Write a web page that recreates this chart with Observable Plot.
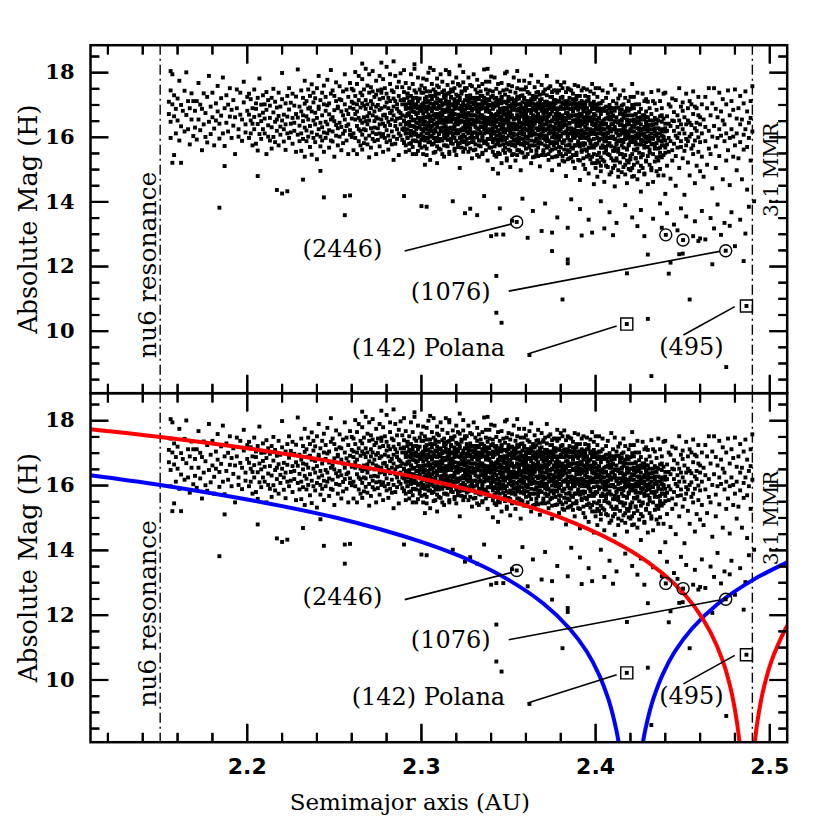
<!DOCTYPE html>
<html><head><meta charset="utf-8">
<script src="https://cdn.jsdelivr.net/npm/d3@7"></script>
<script src="https://cdn.jsdelivr.net/npm/@observablehq/plot@0.6"></script>
<style>
body{margin:0;background:#fff;}
#chart{position:relative;width:830px;height:830px;background:#fff;}
#chart > svg{position:absolute;left:0;overflow:visible;}
</style></head><body><div id="chart"></div>
<script>
// Asteroid family points: "aaa:h,h,..." where a = 2 + aaa/1000 AU and H = h/100 mag
const familyCols = `
155:1672,1710 156:1648,1745,1598 157:1702 158:1665,1730,1545 159:1688,1612 160:1720,1652 161:1590,1775 162:1700,1634,1521 163:1682 164:1744,1618 165:1669,1801 166:1625,1712 167:1690,1578 168:1655,1736 169:1604,1712 170:1682,1630
171:1712,1593 172:1655,1768 173:1622,1701 174:1688,1560 175:1736,1640 176:1601,1675 177:1725,1584 178:1648,1790 179:1610,1695 180:1738,1662 181:1575,1627 182:1705,1652 183:1680,1759 184:1596,1642 185:1721,1667 186:1612,1785 187:1690,1573 188:1645,1730 189:1618,1701 190:1752,1664 191:1598,1685 192:1715,1636 193:1662,1548 194:1690,1748 195:1625,1602 196:1738,1670 197:1589,1655 198:1708,1772 199:1640,1615 200:1682,1725
201:1598,1670,1735 202:1652,1612,1718 203:1690,1575,1642 204:1625,1748,1663 205:1705,1580,1688 206:1641,1722,1559 207:1668,1610,1782 208:1595,1701,1650 209:1730,1625,1676 210:1612,1658,1702 211:1685,1548,1740 212:1637,1715,1602 213:1660,1590,1698 214:1722,1631,1565 215:1601,1677,1750 216:1648,1710,1585 217:1692,1620,1655 218:1575,1738,1666 219:1633,1695,1608 220:1718,1652,1799 221:1587,1670,1625 222:1705,1640,1561 223:1664,1728,1612 224:1598,1686,1752 225:1642,1615,1707 226:1735,1580,1660 227:1620,1698,1645 228:1672,1555,1726 229:1608,1661,1810 230:1695,1636,1588
231:1612,1680,1745,1558 232:1650,1722,1595,1668 233:1704,1630,1540,1775 234:1588,1665,1712,1621 235:1748,1602,1689,1655 236:1635,1570,1728,1692 237:1680,1615,1764,1546 238:1598,1708,1652,1738 239:1721,1640,1585,1676 240:1660,1752,1608,1532 241:1695,1625,1688,1790 242:1572,1645,1715,1602 243:1738,1668,1590,1631 244:1615,1702,1760,1555 245:1682,1598,1648,1725 246:1640,1778,1612,1699 247:1705,1568,1671,1622 248:1590,1735,1655,1808 249:1662,1618,1745,1587 250:1728,1684,1540,1650 251:1605,1712,1638,1770 252:1690,1575,1695,1628 253:1645,1758,1602,1718 254:1715,1632,1680,1560 255:1582,1668,1742,1611 256:1702,1620,1655,1795 257:1635,1748,1590,1684 258:1672,1548,1725,1640 259:1608,1692,1768,1622 260:1750,1658,1601,1710
261:1612,1688,1745,1560,1705 262:1655,1728,1598,1672,1802 263:1702,1635,1765,1548,1680 264:1588,1660,1715,1625,1790 265:1738,1620,1692,1575,1652 266:1645,1780,1608,1705,1730,1562 267:1698,1582,1662,1748,1625 268:1622,1715,1650,1812,1596,1688 269:1760,1640,1578,1702,1665 270:1675,1605,1738,1652,1795,1538 271:1712,1628,1690,1568,1755 272:1595,1668,1742,1615,1805,1702 273:1650,1725,1588,1680,1630 274:1732,1610,1662,1775,1548,1695 275:1628,1700,1745,1592,1658 276:1685,1572,1640,1718,1790,1612 277:1748,1655,1602,1690,1738 278:1610,1722,1668,1555,1780,1642 279:1695,1635,1752,1598,1670 280:1660,1708,1585,1735,1818,1622 281:1722,1648,1690,1562,1605 282:1590,1765,1675,1712,1638,1795 283:1682,1618,1745,1655,1578 284:1740,1695,1602,1668,1720,1530 285:1635,1580,1712,1790,1650 286:1702,1658,1625,1755,1595,1688 287:1612,1728,1680,1545,1772 288:1675,1640,1798,1605,1715,1660 289:1755,1592,1668,1702,1625 290:1628,1715,1650,1582,1740,1808 291:1698,1665,1612,1768,1555 292:1645,1735,1690,1598,1672,1722 293:1710,1580,1752,1638,1690 294:1620,1688,1605,1795,1662,1728 295:1765,1652,1712,1570,1635 296:1590,1700,1678,1745,1615,1812 297:1672,1625,1738,1548,1698 298:1718,1660,1602,1785,1645,1690 299:1635,1748,1682,1575,1720 300:1692,1610,1760,1655,1700,1592
301:1602,1675,1738,1548,1705,1650,1782 302:1662,1720,1590,1695,1628,1752,1515 303:1708,1635,1778,1565,1680,1612,1742 304:1585,1662,1712,1645,1800,1598,1690 305:1742,1620,1688,1530,1665,1728,1605 306:1650,1765,1602,1718,1578,1685,1635 307:1695,1580,1655,1748,1612,1702,1808 308:1618,1728,1672,1555,1740,1640,1690 309:1760,1642,1598,1705,1662,1782,1520 310:1672,1612,1735,1650,1588,1712,1755 311:1715,1668,1562,1690,1628,1795,1645 312:1590,1740,1685,1618,1772,1655,1702 313:1652,1705,1610,1745,1540,1678,1732 314:1728,1632,1680,1598,1715,1660,1808 315:1605,1762,1648,1702,1572,1690,1625 316:1685,1615,1738,1660,1795,1548,1710 317:1748,1678,1595,1630,1722,1668,1588 318:1625,1700,1655,1770,1605,1742,1682 319:1692,1565,1718,1640,1688,1612,1752 320:1658,1732,1612,1695,1545,1785,1642 321:1712,1640,1765,1580,1670,1705,1622 322:1598,1688,1650,1722,1760,1618,1505 323:1742,1622,1698,1665,1592,1735,1680 324:1630,1770,1585,1708,1648,1672,1802 325:1685,1602,1745,1638,1715,1565,1662 326:1752,1660,1618,1690,1578,1728,1640 327:1612,1718,1675,1785,1632,1555,1700 328:1695,1642,1730,1598,1668,1762,1620 329:1640,1758,1605,1682,1720,1655,1535 330:1722,1585,1668,1702,1640,1795,1615 331:1668,1710,1632,1562,1748,1690,1652 332:1600,1738,1695,1655,1610,1722,1778 333:1758,1625,1678,1718,1590,1660,1540 334:1645,1700,1572,1742,1668,1632,1688 335:1712,1658,1765,1605,1695,1548,1728 336:1588,1690,1640,1722,1810,1662,1612 337:1680,1748,1620,1585,1705,1650,1772 338:1735,1615,1692,1660,1528,1718,1642 339:1625,1772,1655,1700,1595,1678,1745 340:1698,1640,1725,1568,1662,1610,1788
341:1612,1688,1742,1555,1650,1705,1502,1628 342:1668,1720,1595,1638,1785,1572,1695,1660 343:1722,1605,1672,1540,1705,1648,1618,1750 344:1585,1655,1698,1765,1622,1580,1680,1488 345:1642,1738,1612,1678,1548,1712,1665,1595 346:1705,1590,1660,1722,1635,1768,1520,1688 347:1628,1682,1745,1602,1655,1578,1710,1640 348:1690,1615,1568,1732,1670,1625,1798,1552 349:1748,1660,1622,1685,1598,1705,1535,1672 350:1605,1712,1678,1640,1762,1562,1652,1725 351:1662,1585,1718,1695,1620,1680,1508,1742 352:1720,1642,1600,1758,1668,1545,1702,1630 353:1578,1695,1655,1712,1612,1785,1640,1590 354:1685,1625,1738,1572,1698,1660,1528,1715 355:1640,1752,1608,1668,1725,1595,1682,1560 356:1702,1588,1662,1632,1775,1650,1612,1720 357:1615,1678,1728,1555,1690,1645,1748,1498 358:1672,1730,1595,1708,1622,1580,1665,1690 359:1748,1650,1612,1680,1538,1718,1628,1775 360:1598,1705,1668,1640,1755,1602,1690,1565
361:1682,1622,1740,1595,1662,1712,1548,1650 362:1630,1768,1685,1618,1702,1575,1735,1608 363:1718,1645,1590,1675,1628,1792,1660,1520 364:1575,1692,1652,1728,1610,1668,1705,1635 365:1665,1612,1755,1588,1700,1645,1540,1722 366:1725,1680,1628,1660,1548,1738,1595,1688 367:1608,1740,1672,1705,1622,1650,1772,1568 368:1690,1598,1645,1732,1662,1510,1712,1625 369:1650,1718,1580,1688,1605,1762,1640,1695 370:1735,1628,1702,1560,1675,1618,1740,1655 371:1592,1665,1625,1748,1698,1545,1682,1605 372:1678,1710,1642,1595,1730,1660,1588,1790 373:1625,1572,1692,1668,1612,1705,1752,1530 374:1705,1648,1758,1620,1582,1688,1635,1672 375:1562,1725,1600,1680,1652,1740,1498,1615 376:1688,1632,1715,1575,1695,1608,1662,1745 377:1745,1598,1658,1705,1540,1672,1625,1585 378:1612,1690,1738,1628,1668,1582,1772,1650 379:1672,1555,1620,1745,1598,1710,1640,1515 380:1722,1645,1688,1602,1762,1568,1660,1695
381:1585,1708,1632,1668,1542,1725,1612,1752 382:1660,1615,1770,1590,1688,1640,1525,1702 383:1700,1740,1575,1652,1618,1695,1658,1480 384:1628,1675,1712,1598,1752,1560,1690,1605 385:1748,1592,1645,1722,1660,1535,1708,1578 386:1612,1688,1568,1705,1628,1745,1590,1665 387:1682,1735,1620,1545,1690,1652,1602,1718 388:1575,1650,1702,1668,1762,1598,1505,1625 389:1718,1605,1640,1692,1575,1728,1655,1552 390:1645,1758,1685,1612,1700,1530,1670,1588 391:1600,1672,1728,1580,1648,1705,1620,1468 392:1692,1622,1560,1745,1665,1598,1712,1640 393:1650,1708,1688,1602,1535,1680,1752,1575 394:1728,1580,1632,1700,1655,1612,1502,1690 395:1598,1665,1748,1628,1690,1558,1642,1712 396:1675,1715,1592,1660,1545,1725,1610,1488 397:1625,1568,1680,1742,1610,1652,1700,1582 398:1702,1640,1612,1688,1765,1540,1658,1520 399:1568,1695,1735,1622,1595,1672,1710,1455 400:1655,1610,1700,1580,1642,1752,1520,1688
401:1612,1682,1545,1725,1598,1478 402:1660,1590,1705,1635,1522,1752 403:1705,1628,1568,1672,1495,1618 404:1575,1712,1650,1608,1745,1530 405:1640,1552,1690,1625,1588,1462 406:1722,1605,1658,1512,1682,1570 407:1598,1675,1630,1738,1548,1612 408:1665,1582,1700,1620,1485,1655 409:1690,1640,1535,1598,1762,1602 410:1558,1712,1668,1625,1505,1690 411:1632,1595,1748,1568,1650,1448 412:1705,1662,1582,1692,1528,1615 413:1590,1622,1720,1645,1555,1478 414:1672,1548,1608,1685,1730,1590 415:1618,1698,1652,1575,1492,1640 416:1745,1585,1632,1702,1538,1660 417:1602,1668,1515,1622,1595,1722 418:1655,1612,1690,1565,1458,1640 419:1712,1578,1642,1608,1682,1522 420:1585,1652,1725,1542,1620,1498 421:1635,1700,1595,1668,1505,1765 422:1690,1562,1618,1648,1725,1480 423:1560,1672,1605,1702,1585,1535 424:1645,1598,1738,1628,1470,1660 425:1702,1625,1552,1678,1598,1612 426:1578,1688,1640,1512,1655,1432 427:1625,1735,1590,1668,1545,1608 428:1668,1602,1655,1488,1712,1575 429:1598,1642,1718,1625,1528,1680 430:1710,1570,1635,1598,1662,1455
431:1625,1552,1690,1588 432:1672,1598,1505,1740 433:1580,1640,1712,1462 434:1705,1565,1628,1605 435:1612,1685,1538,1655 436:1652,1598,1745,1482 437:1568,1712,1625,1540 438:1690,1618,1575,1668 439:1602,1545,1658,1735 440:1738,1628,1590,1425 441:1578,1665,1512,1620 442:1642,1702,1555,1598 443:1695,1588,1635,1472 444:1560,1652,1720,1528 445:1620,1580,1678,1650 446:1715,1542,1605,1450 447:1598,1668,1632,1568 448:1652,1612,1752,1505 449:1570,1695,1588,1640 450:1682,1625,1535,1708 451:1612,1558,1662,1422 452:1735,1640,1595,1575 453:1588,1690,1522,1652 454:1645,1602,1712,1482 455:1702,1565,1638,1610 456:1575,1672,1548,1742 457:1628,1590,1695,1458 458:1690,1645,1512,1620 459:1555,1725,1600,1668 460:1662,1585,1640,1495
461:1612,1702,1540 462:1655,1478 463:1588,1725,1632 464:1690,1515 465:1620,1752,1565 466:1548,1668 467:1705,1602,1442 468:1635,1752 469:1572,1688,1505 470:1662,1598 471:1738,1542,1625 472:1605,1680 473:1652,1470,1718 474:1588,1640 475:1702,1612,1528 476:1560,1745 477:1668,1598,1452 478:1625,1712 479:1540,1685,1602 480:1748,1575 481:1612,1658,1498 482:1690,1535 483:1585,1728,1640 484:1655,1470 485:1608,1705,1562 486:1742,1625 487:1570,1680,1438 488:1645,1598 489:1712,1528,1660 490:1618,1758
`;
// Extra points of the densest core (2.29-2.44 AU)
const coreCols = `
290:1585,1652,1718,1622 291:1640,1702,1575,1688,1612 292:1668,1598,1735,1625 293:1612,1675,1648,1560,1705 294:1700,1635,1582,1662 295:1590,1722,1615,1680,1548 296:1655,1608,1692,1632 297:1722,1588,1645,1702,1610 298:1630,1675,1558,1712 299:1605,1660,1695,1585,1648 300:1682,1625,1738,1568
301:1640,1595,1702,1662,1618 302:1715,1648,1572,1688 303:1598,1662,1625,1725,1545 304:1670,1612,1695,1640 305:1632,1705,1585,1655,1690 306:1578,1680,1622,1728 307:1702,1640,1598,1668,1552 308:1625,1708,1662,1588 309:1688,1572,1632,1720,1645 310:1610,1698,1565,1652 311:1675,1622,1712,1595,1660 312:1548,1668,1630,1700 313:1722,1600,1685,1642,1575 314:1645,1575,1705,1620 315:1592,1735,1658,1612,1680 316:1668,1628,1555,1695 317:1615,1700,1648,1582,1725 318:1702,1580,1662,1628 319:1632,1672,1598,1710,1558 320:1588,1705,1650,1620
321:1658,1612,1728,1570,1690 322:1715,1645,1582,1668 323:1568,1690,1625,1652,1602 324:1678,1608,1700,1555 325:1622,1752,1588,1648,1698 326:1595,1672,1630,1715 327:1648,1582,1708,1655,1615 328:1722,1628,1565,1690 329:1585,1668,1708,1612,1642 330:1652,1598,1688,1560 331:1700,1645,1578,1722,1615 332:1628,1680,1545,1665 333:1575,1702,1648,1612,1688 334:1690,1615,1728,1590 335:1632,1552,1668,1702,1598 336:1708,1648,1582,1625 337:1560,1688,1632,1655,1712 338:1645,1595,1702,1578 339:1682,1622,1568,1715,1650 340:1605,1672,1640,1595
341:1728,1585,1662,1618,1690 342:1612,1700,1545,1650 343:1668,1632,1592,1715,1578 344:1705,1620,1668,1552 345:1575,1688,1638,1602,1715 346:1652,1598,1725,1625 347:1690,1560,1615,1672,1640 348:1620,1710,1592,1652 349:1582,1645,1690,1528,1668 350:1698,1630,1578,1715 351:1642,1558,1672,1612,1695 352:1575,1685,1625,1662 353:1710,1642,1548,1688,1605 354:1632,1592,1705,1658 355:1668,1718,1582,1625,1545 356:1598,1652,1688,1560 357:1702,1618,1578,1665,1632 358:1552,1692,1640,1608 359:1660,1585,1722,1625,1575 360:1625,1678,1540,1695
361:1712,1598,1655,1582,1640 362:1568,1648,1700,1618 363:1635,1682,1558,1605,1712 364:1692,1538,1622,1660 365:1608,1718,1575,1642,1685 366:1652,1592,1702,1560 367:1580,1668,1625,1542,1695 368:1715,1632,1585,1658 369:1545,1682,1612,1702,1628 370:1662,1598,1552,1690 371:1622,1710,1640,1575,1658 372:1568,1652,1685,1602 373:1698,1548,1632,1665,1590 374:1615,1672,1725,1558 375:1650,1585,1622,1700,1538 376:1580,1708,1655,1618 377:1688,1628,1565,1642,1715 378:1542,1662,1605,1680 379:1712,1592,1658,1630,1570 380:1625,1548,1690,1605
381:1655,1702,1582,1635,1528 382:1590,1648,1712,1562 383:1675,1612,1548,1690,1638 384:1532,1665,1625,1702 385:1688,1575,1642,1612,1555 386:1622,1702,1538,1668 387:1565,1648,1680,1598,1525 388:1712,1612,1575,1652 389:1635,1690,1545,1620,1668 390:1582,1662,1612,1705 391:1652,1528,1695,1635,1572 392:1608,1672,1555,1640 393:1698,1618,1582,1662,1515 394:1562,1645,1705,1598 395:1625,1540,1675,1612,1688 396:1680,1602,1568,1652 397:1532,1662,1618,1705,1590 398:1648,1575,1688,1612 399:1612,1695,1548,1638,1662 400:1575,1632,1668,1505
401:1648,1580,1702,1528,1625 402:1690,1612,1552,1658 403:1538,1645,1680,1595,1512 404:1625,1688,1568,1640 405:1682,1598,1525,1655,1612 406:1560,1642,1695,1588 407:1632,1508,1662,1575,1615 408:1598,1688,1545,1632 409:1655,1572,1618,1492,1678 410:1528,1642,1602,1665 411:1682,1558,1625,1595,1512 412:1615,1648,1535,1578 413:1565,1692,1605,1650,1498 414:1638,1522,1672,1588 415:1592,1655,1548,1622,1685 416:1672,1508,1612,1568 417:1545,1635,1680,1595,1485 418:1618,1562,1652,1528 419:1668,1598,1502,1640,1575 420:1532,1625,1688,1588
421:1602,1548,1652,1618,1478 422:1655,1585,1515,1632 423:1578,1642,1598,1670,1535 424:1522,1612,1565,1648 425:1645,1495,1602,1578,1628 426:1592,1662,1538,1615 427:1548,1625,1588,1658,1505 428:1632,1568,1612,1485 429:1585,1648,1525,1602,1662 430:1618,1542,1595,1638 431:1562,1605,1652,1515 432:1638,1578,1498,1612 433:1595,1652,1548,1625 434:1525,1618,1572,1660 435:1582,1495,1642,1605 436:1628,1565,1528,1590 437:1552,1612,1665,1502 438:1605,1538,1588,1648 439:1575,1625,1482,1598 440:1618,1552,1642,1568
`;
const outlierCols = `
157:1521,1795 156:1805 184:1382 187:1511 206:1480 217:1437 220:1426 223:1433 232:1469 244:1414 242:1496 256:1359,1418 259:1420 266:1828 277:1831 284:1835 296:1826 305:1815 316:1802 322:1822 338:1812 349:1803 355:1805
290:1418 300:1387 303:1385 318:1402 325:1365 328:1379 332:1359 336:1418 340:1294 343:1171,1057,1299 345:1380 346:1026 347:1299 352:1342 358:1410 361:1289 362:926 364:1372 369:1310 371:1395 375:1248,1305 378:1352 381:1098 384:1222,1210,1320 386:1408 391:1378 392:1296 396:1345 398:1305
403:1402 405:1318 408:1368 410:1297 412:1335 417:1390 418:1179 421:1352 424:1325 426:1375 428:1294 430:1038,1237 432:861 433:1348 437:1395 438:1320 441:1365 442:1178 443:1212 445:1330 447:1312 448:1238 449:1380 450:1240 452:1355 454:1098 456:1294 457:1340 459:1279 460:1287
461:1372 463:1284 466:1350 467:1207 468:1318 470:1392 472:1298 474:1335 475:889 477:1326 478:1368 480:1263 483:1345 485:1217 486:1302 488:1385 491:1402
`;

// Model curves (a in AU, H in mag)
const blueLeftA  = [2.11, 2.15, 2.20, 2.25, 2.30, 2.33, 2.35, 2.37, 2.385, 2.395, 2.402, 2.407, 2.410, 2.412, 2.4132, 2.4135];
const blueLeftH  = [16.32, 16.02, 15.57, 15.02, 14.26, 13.64, 13.09, 12.36, 11.59, 10.87, 10.16, 9.46, 8.90, 8.43, 8.09, 7.99];
const blueRightA = [2.4269, 2.4272, 2.4284, 2.4304, 2.4334, 2.4384, 2.4454, 2.4554, 2.4704, 2.4904, 2.51];
const blueRightH = [7.99, 8.09, 8.43, 8.90, 9.46, 10.16, 10.87, 11.59, 12.36, 13.09, 13.63];
const redLeftA   = [2.11, 2.15, 2.20, 2.25, 2.30, 2.35, 2.38, 2.41, 2.43, 2.445, 2.457, 2.466, 2.473, 2.478, 2.481, 2.4826, 2.4829];
const redLeftH   = [17.74, 17.50, 17.15, 16.73, 16.22, 15.54, 15.01, 14.29, 13.64, 12.98, 12.25, 11.47, 10.59, 9.63, 8.75, 8.08, 7.92];
const redRightA  = [2.4911, 2.4914, 2.493, 2.496, 2.501, 2.508, 2.51];
const redRightH  = [7.92, 8.08, 8.75, 9.63, 10.59, 11.47, 11.67];

// Annotations
const labelText = ["(2446)", "(1076)", "(142) Polana", "(495)"];
const labelA    = [2.2547, 2.3168, 2.3040, 2.4550];
const labelH    = [12.54, 11.21, 9.48, 9.50];
const leadA1 = [2.2904, 2.3501, 2.3610, 2.4504];
const leadH1 = [12.48, 11.24, 9.29, 9.88];
const leadA2 = [2.3520, 2.4712, 2.4121, 2.4799];
const leadH2 = [13.32, 12.47, 10.16, 10.76];
const circleA = [2.3547, 2.4403, 2.4502, 2.4747];
const circleH = [13.38, 12.98, 12.82, 12.49];
const squareA = [2.4179, 2.4866];
const squareH = [10.22, 10.78];
const resonanceA = [2.15, 2.49];
const resonanceText = ["nu6 resonance", "3:1 MMR"];
const resonanceTextH = [12.05, 15.0];

// Axes
const xDomain = [2.11, 2.51];
const yDomain = [8.08, 18.85];
const xMajor = [2.2, 2.3, 2.4, 2.5];
const xMinor = [2.12,2.14,2.16,2.18,2.22,2.24,2.26,2.28,2.32,2.34,2.36,2.38,2.42,2.44,2.46,2.48];
const yMajor = [10, 12, 14, 16, 18];
const yMinor = [8.5,9,9.5,10.5,11,11.5,12.5,13,13.5,14.5,15,15.5,16.5,17,17.5,18.5];
const xTitle = "Semimajor axis (AU)";
const yTitle = "Absolute Mag (H)";

function parseCols(s){
  const out = [];
  for (const tok of s.trim().split(/\s+/)) {
    const [a, hs] = tok.split(":");
    for (const h of hs.split(",")) out.push({a: 2 + (+a)/1000, H: (+h)/100});
  }
  return out;
}
const zip = (A, H) => A.map((a, i) => ({a, H: H[i]}));
const points = parseCols(familyCols).concat(parseCols(coreCols), parseCols(outlierCols));
const marked = zip(circleA, circleH).concat(zip(squareA, squareH));
const curves = [
  {data: zip(blueLeftA, blueLeftH), color: "#0000ff"},
  {data: zip(blueRightA, blueRightH), color: "#0000ff"},
  {data: zip(redLeftA, redLeftH), color: "#ff0000"},
  {data: zip(redRightA, redRightH), color: "#ff0000"}
];
const labels = labelText.map((t, i) => ({t, a: labelA[i], H: labelH[i]}));
const leaders = leadA1.map((a, i) => ({a1: a, H1: leadH1[i], a2: leadA2[i], H2: leadH2[i]}));

const W = 830, ML = 90, MR = 43.3;
const SERIF = "DejaVu Serif", SANS = "DejaVu Sans";

function makePanel(cfg) {
  const ph = cfg.height - cfg.marginTop - cfg.marginBottom, pw = W - ML - MR;
  const ux = (xDomain[1] - xDomain[0]) / pw, uy = (yDomain[1] - yDomain[0]) / ph;
  const X0 = xDomain[0], X1 = xDomain[1], Y0 = yDomain[0], Y1 = yDomain[1];
  // inward tick segments, starting 1 px inside the frame line
  const tickSegs = [];
  for (const [vals, len] of [[xMajor, 18], [xMinor, 9]]) for (const v of vals) {
    tickSegs.push({a1: v, a2: v, h1: Y0 + 1 * uy, h2: Y0 + len * uy});
    tickSegs.push({a1: v, a2: v, h1: Y1 - 1 * uy, h2: Y1 - len * uy});
  }
  for (const [vals, len] of [[yMajor, 18], [yMinor, 9]]) for (const v of vals) {
    tickSegs.push({a1: X0 + 1 * ux, a2: X0 + len * ux, h1: v, h2: v});
    tickSegs.push({a1: X1 - 1 * ux, a2: X1 - len * ux, h1: v, h2: v});
  }
  const marks = [];
  marks.push(Plot.dot(points, {x: "a", y: "H", symbol: "square", r: 2.2, fill: "black", stroke: "none"}));
  marks.push(Plot.ruleX(resonanceA, {x: d => d, stroke: "black", strokeWidth: 1.4, strokeDasharray: "10,4,2,4"}));
  if (cfg.showCurves) for (const c of curves)
    marks.push(Plot.line(c.data, {x: "a", y: "H", stroke: c.color, strokeWidth: 4, curve: "catmull-rom", clip: true}));
  marks.push(Plot.link(leaders, {x1: "a1", y1: "H1", x2: "a2", y2: "H2", stroke: "black", strokeWidth: 1.6}));
  marks.push(Plot.link(tickSegs, {x1: "a1", y1: "h1", x2: "a2", y2: "h2", stroke: "#000000", strokeWidth: 2.2}));
  marks.push(Plot.dot(marked, {x: "a", y: "H", symbol: "square", r: 2.2, fill: "black", stroke: "none"}));
  marks.push(Plot.dot(zip(circleA, circleH), {x: "a", y: "H", r: 6, fill: "none", stroke: "black", strokeWidth: 1.4}));
  marks.push(Plot.dot(zip(squareA, squareH), {x: "a", y: "H", symbol: "square", r: 6.8, fill: "none", stroke: "black", strokeWidth: 1.4}));
  marks.push(Plot.text(labels, {x: "a", y: "H", text: "t", fontFamily: SERIF, fontSize: 24, fill: "black"}));
  marks.push(Plot.text([resonanceText[0]], {x: () => resonanceA[0], y: () => resonanceTextH[0], text: d => d, rotate: -90, dx: -12, fontFamily: SERIF, fontSize: 25, fill: "black"}));
  marks.push(Plot.text([resonanceText[1]], {x: () => resonanceA[1], y: () => resonanceTextH[1], text: d => d, rotate: -90, dx: 19, fontFamily: SERIF, fontSize: 20, fill: "black"}));
  // the library's own axis marks, shifted so the ticks point inside the frame
  const ax = {tickFormat: () => "", label: null, strokeWidth: 2, stroke: "black"};
  for (const [vals, len] of [[xMajor, 18], [xMinor, 9]]) {
    marks.push(Plot.axisX(vals, {anchor: "bottom", tickSize: len, dy: -len, ...ax}));
    marks.push(Plot.axisX(vals, {anchor: "top", tickSize: len, dy: len, ...ax}));
  }
  for (const [vals, len] of [[yMajor, 18], [yMinor, 9]]) {
    marks.push(Plot.axisY(vals, {anchor: "left", tickSize: len, dx: len, ...ax}));
    marks.push(Plot.axisY(vals, {anchor: "right", tickSize: len, dx: -len, ...ax}));
  }
  marks.push(Plot.frame({stroke: "black", strokeWidth: 2.5}));
  marks.push(Plot.text(yMajor, {y: d => d, text: d => String(d), frameAnchor: "left", dx: -16, textAnchor: "end", lineAnchor: "middle", fontFamily: SERIF, fontWeight: "bold", fontSize: 21, fill: "black"}));
  marks.push(Plot.text([yTitle], {text: d => d, frameAnchor: "left", dx: -62, rotate: -90, textAnchor: "middle", lineAnchor: "middle", fontFamily: SERIF, fontSize: 25.5, fill: "black"}));
  if (cfg.showXLabels) {
    marks.push(Plot.text(xMajor, {x: d => d, text: d => d.toFixed(1), frameAnchor: "bottom", dy: 24.5, lineAnchor: "middle", textAnchor: "middle", fontFamily: SANS, fontWeight: "bold", fontSize: 22, fill: "black"}));
    marks.push(Plot.text([xTitle], {text: d => d, frameAnchor: "bottom", dy: 60, dx: -29, lineAnchor: "middle", textAnchor: "middle", fontFamily: SERIF, fontSize: 23, fill: "black"}));
  }
  return Plot.plot({
    width: W, height: cfg.height, marginLeft: ML, marginRight: MR, marginTop: cfg.marginTop, marginBottom: cfg.marginBottom,
    x: {domain: xDomain, axis: null, label: null},
    y: {domain: yDomain, axis: null, label: null},
    style: {background: "transparent", overflow: "visible"},
    marks
  });
}

const chartEl = document.getElementById("chart");
const topPanel = makePanel({height: 400, marginTop: 44.7, marginBottom: 7.3, showCurves: false, showXLabels: false});
topPanel.style.top = "0px";
const bottomPanel = makePanel({height: 445, marginTop: 7.7, marginBottom: 88.3, showCurves: true, showXLabels: true});
bottomPanel.style.top = "385px";
chartEl.appendChild(topPanel);
chartEl.appendChild(bottomPanel);
</script>
</body></html>
